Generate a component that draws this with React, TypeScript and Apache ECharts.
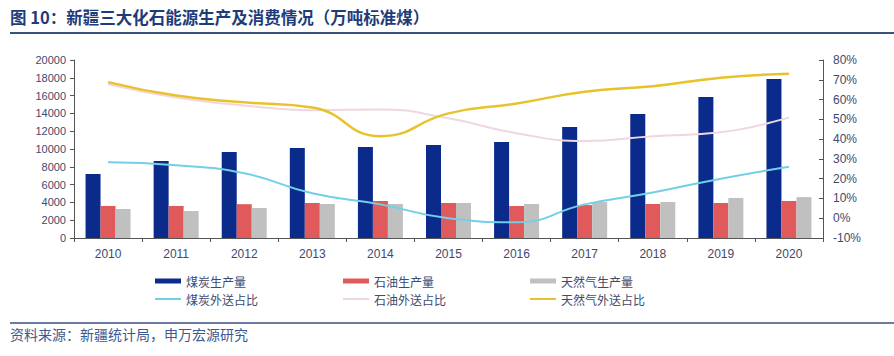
import React, { useEffect, useRef } from "react";
import * as echarts from "echarts";

const years = ["2010", "2011", "2012", "2013", "2014", "2015", "2016", "2017", "2018", "2019", "2020"];
const coalProd = [7190, 8650, 9660, 10110, 10220, 10450, 10790, 12470, 13930, 15840, 17870];
const oilProd = [3600, 3600, 3800, 3930, 4160, 3930, 3600, 3700, 3820, 3930, 4160];
const gasProd = [3260, 3030, 3370, 3820, 3820, 3930, 3820, 4040, 4040, 4500, 4600];
const coalOut = [28.3, 26.8, 22.7, 12.6, 7, 0, -2, 7, 13, 20, 26];
const oilOut = [67.7, 61, 57, 54.6, 55, 50.5, 43, 39, 41.5, 43.5, 51];
const gasOut = [68.8, 62, 58.6, 56, 41.5, 53, 58, 64, 66.7, 71, 73];

const names = ["煤炭生产量", "石油生产量", "天然气生产量", "煤炭外送占比", "石油外送占比", "天然气外送占比"];
const colors = ["#0a2b8c", "#e05a5c", "#c0c0c0", "#72d0e6", "#f0d6de", "#e8c22a"];

const TXT = "#3e4a6e";
const FONT = "'Noto Sans CJK SC', 'Noto Sans', sans-serif";
const NUMFONT = "Arial, 'Liberation Sans', sans-serif";

export default function App() {
  const ref = useRef<HTMLDivElement>(null);
  useEffect(() => {
    if (!ref.current) return;
    const chart = echarts.init(ref.current, null, { renderer: "svg" });
    const legendLefts = [155, 343, 530];
    const legends: any[] = [];
    names.forEach((n, i) => {
      const col = i % 3;
      const row = Math.floor(i / 3);
      legends.push({
        data: [n],
        left: legendLefts[col],
        top: row === 0 ? 274 : 292,
        icon: "rect",
        itemWidth: 26,
        itemHeight: row === 0 ? 5 : 2,
        itemGap: 4,
        padding: 0,
        textStyle: { color: TXT, fontSize: 12, fontFamily: FONT, lineHeight: 14 },
        selectedMode: false,
      });
    });
    chart.setOption({
      animation: false,
      textStyle: { fontFamily: FONT },
      grid: { left: 74, right: 71, top: 60, bottom: 118 },
      legend: legends,
      graphic: [
        {
          type: "text",
          left: 10,
          top: 9,
          style: {
            text: "图 10：新疆三大化石能源生产及消费情况（万吨标准煤）",
            fill: "#1f3c7a",
            font: `bold 16.5px ${FONT}`,
          },
        },
        {
          type: "line",
          shape: { x1: 10, y1: 33, x2: 894, y2: 33 },
          style: { stroke: "#3a5180", lineWidth: 2 },
        },
        {
          type: "line",
          shape: { x1: 10, y1: 323, x2: 894, y2: 323 },
          style: { stroke: "#3a5180", lineWidth: 1.5 },
        },
        {
          type: "text",
          left: 10,
          top: 327,
          style: {
            text: "资料来源：新疆统计局，申万宏源研究",
            fill: "#3d5a8e",
            font: `14px ${FONT}`,
          },
        },
      ],
      xAxis: {
        type: "category",
        data: years,
        axisLine: { lineStyle: { color: "#555", width: 1 } },
        axisTick: { show: true, length: 4, lineStyle: { color: "#555" } },
        axisLabel: { color: TXT, fontSize: 12, margin: 10, fontFamily: NUMFONT },
      },
      yAxis: [
        {
          type: "value",
          min: 0,
          max: 20000,
          interval: 2000,
          splitLine: { show: false },
          axisLine: { show: true, lineStyle: { color: "#555" } },
          axisTick: { show: true, length: 4, lineStyle: { color: "#555" } },
          axisLabel: { color: TXT, fontSize: 11, margin: 8, fontFamily: NUMFONT, formatter: (v: number) => String(v) },
        },
        {
          type: "value",
          min: -10,
          max: 80,
          interval: 10,
          splitLine: { show: false },
          axisLine: { show: true, lineStyle: { color: "#555" } },
          axisTick: { show: true, length: 4, inside: true, lineStyle: { color: "#555" } },
          axisLabel: { color: TXT, fontSize: 12, margin: 10, formatter: "{value}%", fontFamily: NUMFONT },
        },
      ],
      series: [
        { name: names[0], type: "bar", data: coalProd, barWidth: 15, barGap: "0%", itemStyle: { color: colors[0] } },
        { name: names[1], type: "bar", data: oilProd, barWidth: 15, barGap: "0%", itemStyle: { color: colors[1] } },
        { name: names[2], type: "bar", data: gasProd, barWidth: 15, barGap: "0%", itemStyle: { color: colors[2] } },
        { name: names[3], type: "line", yAxisIndex: 1, data: coalOut, smooth: true, showSymbol: false, symbol: "none", color: colors[3], itemStyle: { color: colors[3] }, lineStyle: { color: colors[3], width: 2 } },
        { name: names[4], type: "line", yAxisIndex: 1, data: oilOut, smooth: true, showSymbol: false, symbol: "none", color: colors[4], itemStyle: { color: colors[4] }, lineStyle: { color: colors[4], width: 2 } },
        { name: names[5], type: "line", yAxisIndex: 1, data: gasOut, smooth: true, showSymbol: false, symbol: "none", color: colors[5], itemStyle: { color: colors[5] }, lineStyle: { color: colors[5], width: 2.5 } },
      ],
    });
    return () => chart.dispose();
  }, []);
  return (
    <div
      ref={ref}
      style={{ position: "fixed", left: 0, top: 0, width: 894, height: 356, background: "#fff" }}
    />
  );
}
